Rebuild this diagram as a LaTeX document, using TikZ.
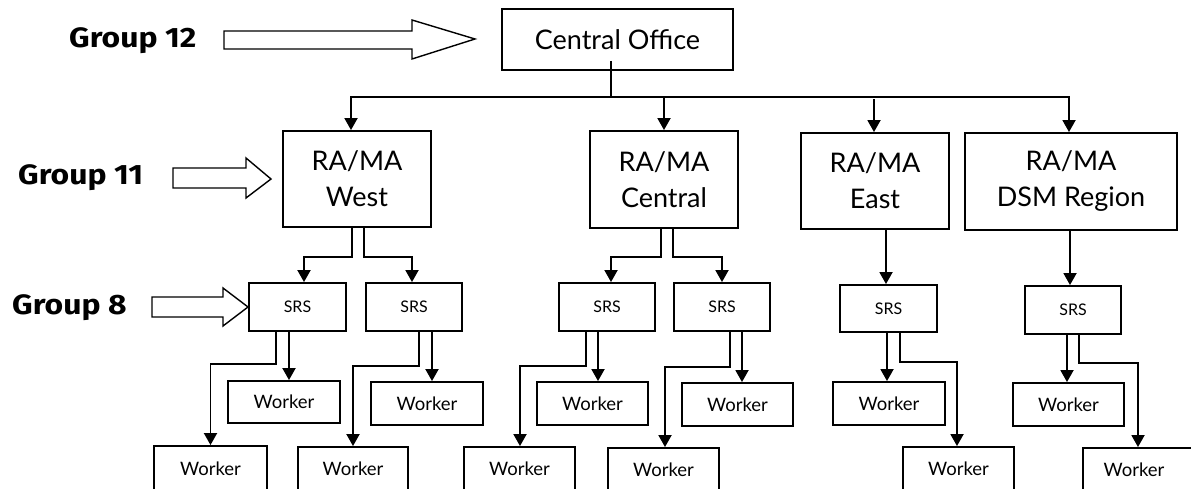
\documentclass[tikz,border=0pt]{standalone}
\usepackage{fontspec}
\usepackage{graphicx}
\setmainfont{Lato}
\newfontfamily\grpfont{Fira Sans}
\usetikzlibrary{arrows.meta}
\newcommand{\grplabel}[1]{\scalebox{1.14}[1]{#1}}
\begin{document}
\begin{tikzpicture}[x=1pt,y=-1pt,
  box/.style={draw, line width=1.9pt, inner sep=0pt, align=center},
  big/.style={box, font=\fontsize{27}{36}\selectfont},
  srsbox/.style={box, minimum width=96pt, minimum height=48pt, font=\fontsize{16}{19}\selectfont},
  wbox/.style={box, minimum width=111pt, minimum height=43pt, font=\fontsize{18.5}{22}\selectfont},
  grp/.style={font=\grpfont\fontsize{28}{32}\selectfont\bfseries, inner sep=0pt, anchor=base west},
  arr/.style={line width=1.9pt, -{Triangle[length=12pt,width=13pt]}},
  blockarrow/.style={draw, line width=1.4pt, fill=white, line join=miter}
]
\useasboundingbox (0,0) rectangle (1191,489);

% top level
\node[big, minimum width=231pt, minimum height=61pt] (co) at (617.5,39.5) {Central Office};
\node[big, minimum width=148pt, minimum height=96pt] (west) at (357,179) {RA/MA\\West};
\node[big, minimum width=148pt, minimum height=97pt] (cent) at (664,179.5) {RA/MA\\Central};
\node[big, minimum width=148pt, minimum height=96pt] (east) at (875,181) {RA/MA\\East};
\node[big, minimum width=212pt, minimum height=97pt] (dsm) at (1071,181.5) {RA/MA\\DSM Region};

% SRS
\node[srsbox, minimum width=97pt] (s1) at (297.5,307) {SRS};
\node[srsbox] (s2) at (414,307) {SRS};
\node[srsbox] (s3) at (607,307) {SRS};
\node[srsbox] (s4) at (722,307) {SRS};
\node[srsbox, minimum width=97pt, minimum height=47pt] (s5) at (888.5,308.5) {SRS};
\node[srsbox] (s6) at (1073,310) {SRS};

% workers
\node[wbox, minimum width=112pt, minimum height=42pt] (w1a) at (284,402) {Worker};
\node[wbox, minimum width=113pt, minimum height=45pt] (w1b) at (210.5,468.5) {Worker};
\node[wbox, minimum width=112pt] (w2a) at (427,403.5) {Worker};
\node[wbox, minimum width=110pt, minimum height=44pt] (w2b) at (353,469) {Worker};
\node[wbox] (w3a) at (592.5,403.5) {Worker};
\node[wbox, minimum height=44pt] (w3b) at (519.5,469) {Worker};
\node[wbox] (w4a) at (737.5,404.5) {Worker};
\node[wbox] (w4b) at (663.5,469.5) {Worker};
\node[wbox, minimum width=112pt] (w5a) at (889,403.5) {Worker};
\node[wbox, minimum height=44pt] (w5b) at (958.5,469) {Worker};
\node[wbox] (w6a) at (1068.5,404.5) {Worker};
\node[wbox, minimum width=112pt] (w6b) at (1139,469.5) {};
\node[font=\fontsize{18.5}{22}\selectfont, inner sep=0pt] (w6bt) at (1134,469.5) {Worker};

% group labels
\node[grp] (g12) at (69,48) {\grplabel{Group 12}};
\node[grp] (g11) at (18,185) {\grplabel{Group 11}};
\node[grp] (g8) at (12,314) {\grplabel{Group 8}};

% block arrows
\draw[blockarrow] (224,31) -- (412,31) -- (412,20) -- (475,39) -- (412,59) -- (412,49) -- (224,49) -- cycle;
\draw[blockarrow] (173,168) -- (246,168) -- (246,158) -- (271,179) -- (246,198) -- (246,188) -- (173,188) -- cycle;
\draw[blockarrow] (152,297) -- (223,297) -- (223,288) -- (248,307) -- (223,326) -- (223,317) -- (152,317) -- cycle;

% central office to regions
\coordinate (bus) at (611,97);
\draw[line width=2.4pt] ([xshift=-6.5pt,yshift=10pt]co.south) -- (bus);
\draw[line width=1.9pt, {Triangle[length=12pt,width=13pt]}-{Triangle[length=12pt,width=13pt]}]
  ([xshift=-6pt]west.north) |- (bus) -| ([xshift=-2pt]dsm.north);
\draw[arr] ([yshift=32pt]cent.north) -- (cent.north);
\draw[arr] ([xshift=-1pt,yshift=33pt]east.north) -- ([xshift=-1pt]east.north);

% regions to SRS
\draw[arr] ([xshift=-5pt]west.south) -- ++(0,29) -| ([xshift=6.5pt]s1.north);
\draw[arr] ([xshift=7pt]west.south) -- ++(0,29) -| ([xshift=-2pt]s2.north);
\draw[arr] ([xshift=-3pt]cent.south) -- ++(0,28) -| ([xshift=4pt]s3.north);
\draw[arr] ([xshift=9pt]cent.south) -- ++(0,28) -| (s4.north);
\draw[arr] ([xshift=11pt]east.south) -- ([xshift=-2.5pt]s5.north);
\draw[arr] ([xshift=-1pt]dsm.south) -- ([xshift=-3pt]s6.north);

% SRS to workers
\draw[arr] ([xshift=-21.5pt]s1.south) -- ++(0,32) -| (w1b.north);
\draw[arr] ([xshift=-8.5pt]s1.south) -- ([xshift=5pt]w1a.north);
\draw[arr] ([xshift=5pt]s2.south) -- ++(0,34) -| (w2b.north);
\draw[arr] ([xshift=18pt]s2.south) -- ([xshift=5pt]w2a.north);
\draw[arr] ([xshift=-21pt]s3.south) -- ++(0,34) -| ([xshift=0.5pt]w3b.north);
\draw[arr] ([xshift=-9pt]s3.south) -- ([xshift=5.5pt]w3a.north);
\draw[arr] ([xshift=8pt]s4.south) -- ++(0,35) -| ([xshift=1.5pt]w4b.north);
\draw[arr] ([xshift=20pt]s4.south) -- ([xshift=4.5pt]w4a.north);
\draw[arr] ([xshift=-1.5pt]s5.south) -- ([xshift=-2pt]w5a.north);
\draw[arr] ([xshift=11.5pt]s5.south) -- ++(0,29) -| ([xshift=-1.5pt]w5b.north);
\draw[arr] ([xshift=-6pt]s6.south) -- ([xshift=-1.5pt]w6a.north);
\draw[arr] ([xshift=6pt]s6.south) -- ++(0,28) -| ([xshift=-1pt]w6b.north);
\end{tikzpicture}
\end{document}
